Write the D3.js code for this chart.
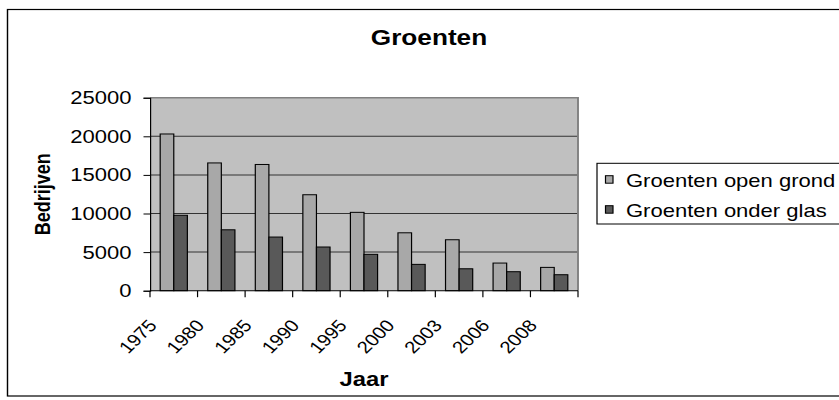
<!DOCTYPE html>
<html>
<head>
<meta charset="utf-8">
<script src="https://cdn.jsdelivr.net/npm/d3@7"></script>
<style>
	html, body { margin: 0; padding: 0; background: #fff; }
	svg { display: block; }
	text { font-family: "Liberation Sans", Arial, sans-serif; fill: #000; }
</style>
</head>
<body>
<div id="chart"></div>
<script>
// chart data
const years = ["1975", "1980", "1985", "1990", "1995", "2000", "2003", "2006", "2008"];
const openGrond = [20300, 16550, 16350, 12430, 10150, 7500, 6600, 3580, 3020];
const onderGlas = [9770, 7890, 6950, 5660, 4710, 3410, 2840, 2460, 2070];
const seriesNames = ["Groenten open grond", "Groenten onder glas"];
const yTicks = [0, 5000, 10000, 15000, 20000, 25000];

// the picture is a bit wider than it is tall in its text, so draw in a narrower
// box and let the svg stretch it sideways
const W = 839, H = 400, K = 1.19;
const IW = W / K;
const px = v => v / K;   // real pixel x -> drawing x

const COLORS = ["#a8a8a8", "#595959"];

const svg = d3.select("#chart").append("svg")
	.attr("width", W).attr("height", H)
	.attr("viewBox", `0 0 ${IW} ${H}`)
	.attr("preserveAspectRatio", "none");

// outer frame
svg.append("rect")
	.attr("x", px(7.5)).attr("y", 9.5)
	.attr("width", px(860)).attr("height", 386.5)
	.attr("fill", "#fff").attr("stroke", "#000").attr("stroke-width", 1.2);

const plot = {left: px(150), right: px(578), top: 97.7, bottom: 290.7};

const x0 = d3.scaleBand().domain(years)
	.range([plot.left, plot.right])
	.paddingInner(1.5 / 3.5).paddingOuter(0.75 / 3.5);
const x1 = d3.scaleBand().domain([0, 1]).range([0, x0.bandwidth()]);
const y = d3.scaleLinear().domain([0, 25000]).range([plot.bottom, plot.top]);

// plot area
svg.append("rect")
	.attr("x", plot.left).attr("y", plot.top)
	.attr("width", plot.right - plot.left).attr("height", plot.bottom - plot.top)
	.attr("fill", "#c0c0c0");

// gridlines
svg.append("g").selectAll("line")
	.data(yTicks.slice(1, -1)).enter().append("line")
	.attr("x1", plot.left).attr("x2", plot.right)
	.attr("y1", d => y(d)).attr("y2", d => y(d))
	.attr("stroke", "#333").attr("stroke-width", 1);

// plot border top / right
svg.append("path")
	.attr("d", `M${plot.left},${plot.top}H${plot.right}V${plot.bottom}`)
	.attr("fill", "none").attr("stroke", "#808080").attr("stroke-width", 1.6);

// bars
const groups = svg.append("g").selectAll("g")
	.data(years).enter().append("g")
	.attr("transform", d => `translate(${x0(d)},0)`);

groups.selectAll("rect")
	.data((d, i) => [openGrond[i], onderGlas[i]]).enter().append("rect")
	.attr("x", (d, j) => x1(j))
	.attr("width", x1.bandwidth())
	.attr("y", d => y(d))
	.attr("height", d => y(0) - y(d))
	.attr("fill", (d, j) => COLORS[j])
	.attr("stroke", "#000").attr("stroke-width", 1);

// y axis
const yAxis = svg.append("g")
	.attr("transform", `translate(${plot.left},0)`)
	.call(d3.axisLeft(y).tickValues(yTicks).tickSize(px(6.5)).tickPadding(px(12)).tickFormat(d3.format("d")));
yAxis.select(".domain").attr("stroke", "#000");
yAxis.selectAll(".tick line").attr("stroke", "#000");
yAxis.selectAll("text").style("font-size", "18.5px").attr("fill", "#000");

// x axis: ticks on the category edges
const edges = d3.range(years.length + 1).map(i => plot.left + i * x0.step());
svg.append("line")
	.attr("x1", plot.left).attr("x2", plot.right)
	.attr("y1", plot.bottom).attr("y2", plot.bottom)
	.attr("stroke", "#000");
svg.append("g").selectAll("line")
	.data(edges).enter().append("line")
	.attr("x1", d => d).attr("x2", d => d)
	.attr("y1", plot.bottom).attr("y2", plot.bottom + 6.5)
	.attr("stroke", "#000");

svg.append("g").selectAll("text")
	.data(years).enter().append("text")
	.attr("transform", d => `translate(${x0(d) + x0.bandwidth() / 2 - px(16)},326) rotate(-49)`)
	.attr("text-anchor", "end")
	.style("font-size", "17px")
	.text(d => d);

// titles
svg.append("text")
	.attr("x", px(429)).attr("y", 45.5)
	.attr("text-anchor", "middle")
	.style("font-size", "22px").style("font-weight", "bold")
	.text("Groenten");

svg.append("text")
	.attr("x", (plot.left + plot.right) / 2).attr("y", 386.5)
	.attr("text-anchor", "middle")
	.style("font-size", "20px").style("font-weight", "bold")
	.text("Jaar");

svg.append("text")
	.attr("transform", `translate(${px(50)},${(plot.top + plot.bottom) / 2}) rotate(-90)`)
	.attr("text-anchor", "middle")
	.style("font-size", "18px").style("font-weight", "bold")
	.text("Bedrijven");

// legend
svg.append("rect")
	.attr("x", px(597)).attr("y", 163.3)
	.attr("width", px(300)).attr("height", 60.7)
	.attr("fill", "#fff").attr("stroke", "#000").attr("stroke-width", 1);

const legendRows = [175.7, 205.7];
const legend = svg.append("g").selectAll("g")
	.data(seriesNames).enter().append("g");
legend.append("rect")
	.attr("x", px(605.5)).attr("y", (d, i) => legendRows[i])
	.attr("width", px(7.5)).attr("height", 7.5)
	.attr("fill", (d, i) => COLORS[i])
	.attr("stroke", "#000").attr("stroke-width", 1);
legend.append("text")
	.attr("x", px(626)).attr("y", (d, i) => legendRows[i] + 11)
	.style("font-size", "18.5px")
	.text(d => d);
</script>
</body>
</html>
